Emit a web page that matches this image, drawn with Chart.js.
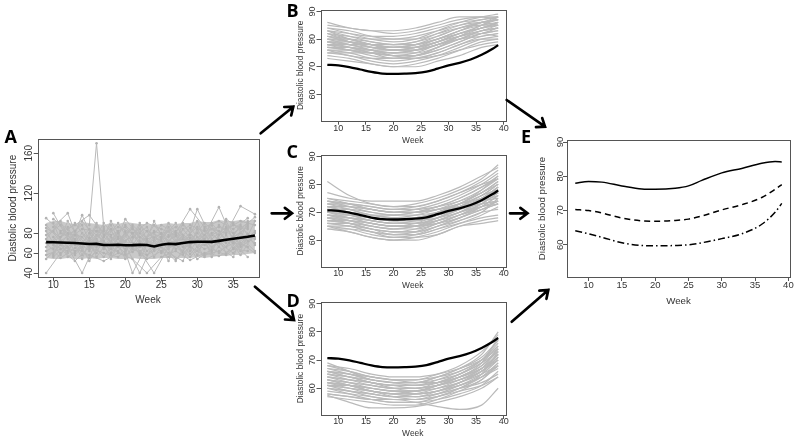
<!DOCTYPE html>
<html><head><meta charset="utf-8">
<script src="https://cdn.jsdelivr.net/npm/chart.js@4.4.1/dist/chart.umd.min.js"></script>
<style>
html,body{margin:0;padding:0;background:#fff;}
#wrap{position:relative;width:800px;height:443px;overflow:hidden;background:#fff;}
canvas{position:absolute;}
svg{position:absolute;left:0;top:0;}
</style></head><body>
<div id="wrap">
<canvas id="cA"></canvas>
<canvas id="cB"></canvas>
<canvas id="cC"></canvas>
<canvas id="cD"></canvas>
<canvas id="cE"></canvas>
<svg id="ov" width="800" height="443" xmlns="http://www.w3.org/2000/svg">
  <g font-family="Open Sans, Liberation Sans, sans-serif" font-weight="700" font-size="18" fill="#000">
    <text x="4.5" y="142.7">A</text>
    <text x="286.5" y="16.7">B</text>
    <text x="286.5" y="158">C</text>
    <text x="286.5" y="306.7">D</text>
    <text x="521" y="143.3">E</text>
  </g>
</svg>
</div>
<script>
// ---------- DATA ----------
const yTitle = "Diastolic blood pressure";
const xTitle = "Week";

// Panel A: observed trajectories
const weeksA = [9,10,11,12,13,14,15,16,17,18,19,20,21,22,23,24,25,26,27,28,29,30,31,32,33,34,35,36,37,38];
const meanA = [71,70.8,70.5,70.3,70,69.5,69,69.2,68,68,68.3,67.8,67.9,68.2,68,66.6,68.4,69.3,69,70,71,71.3,71.4,71.2,72.2,73.3,74.3,75.3,76.3,77.5];
const bandHighA = [90,92,92,90,89,91,90,89,88,90,89,91,90,89,89,88,89,90,89,90,90,92,91,91,93,92,92,93,92,94];
const bandLowA = [55,54,54,55,54,54,55,54,55,55,54,54,55,54,54,54,55,55,55,55,55,56,55,56,57,57,58,58,59,60];
const weeksOdd = [9,11,13,15,17,19,21,23,25,27,29,31,33,35,37];
const weeksEven = [10,12,14,16,18,20,22,24,26,28,30,32,34,36,38];
const trajOdd = [
  [62,70,58,75,66,80,61,72,68,77,59,74,82,65,79],
  [85,76,90,70,82,68,88,74,79,86,72,90,78,88,84],
  [40,60,72,55,70,62,80,58,66,52,75,64,70,60,78],
  [95,82,88,98,78,86,80,90,84,78,88,82,86,80,90],
  [70,55,65,58,52,60,54,40,56,62,53,60,57,64,62],
  [78,88,68,84,72,90,66,82,76,70,85,68,88,76,86],
  [58,64,52,66,60,56,70,54,62,68,56,72,60,74,66],
  [88,72,82,64,90,74,84,70,88,80,104,86,92,84,95],
  [66,80,74,62,84,70,76,86,60,82,68,78,106,72,88],
  [54,68,62,72,56,76,64,58,72,54,66,58,62,70,56],
  [74,92,60,80,64,82,40,68,80,64,78,56,74,90,72],
  [82,58,78,52,76,66,86,62,74,90,62,84,66,56,92]
];
const trajEven = [
  [100,74,84,82,78,86,70,82,76,88,72,84,80,107,99],
  [64,86,58,78,66,72,60,76,68,62,80,66,74,68,82],
  [76,60,98,66,88,62,84,64,90,70,62,78,70,86,74],
  [58,92,70,86,60,94,76,68,56,84,66,90,72,80,70],
  [82,66,40,72,64,58,66,88,70,74,86,70,84,92,88],
  [72,80,76,60,92,68,40,72,82,58,76,62,92,66,76],
  [90,56,66,82,54,82,58,92,64,78,58,88,60,76,62],
  [60,78,88,56,76,64,90,56,78,66,92,56,78,58,80],
  [86,100,62,90,70,88,72,80,52,90,70,80,66,88,68],
  [68,62,80,68,84,54,80,62,86,60,104,74,86,62,92],
  [56,70,92,74,58,80,62,40,66,76,54,64,58,70,60],
  [94,84,54,88,72,60,88,74,60,52,84,60,94,84,96]
];
const weeksSpike = [15,16,17];
const spikeVals = [88,170,86];

// Panels B/C/D: fitted trajectories
const curveWeeks = [8,12,16,20,24,28,32,36,39];
const meanWeeks = [8,10,12,14,16,18,20,22,24,26,28,30,32,34,36,38,39];
const meanCurve = [70.7,70.5,69.9,69,68.1,67.5,67.4,67.5,67.7,68.2,69.3,70.5,71.4,72.6,74.3,76.5,77.8];
const curvesB = [
  [86,84,83,82,83,85,87,88,88],[84,82,80,79,80,83,86,88,89],[83,81,79,78,79,82,85,87,88],
  [82,80,78,77,78,81,84,86,87],[81,79,77,76,77,80,83,85,86],[80,78,76,75,76,79,82,84,85],
  [79,77,75,74,75,78,81,83,84],[78,76,75,74,74,77,80,83,84],[77,76,74,73,74,76,79,82,83],
  [76,75,73,72,73,75,78,81,82],[75,74,72,71,72,74,77,80,81],[74,73,71,70,71,73,76,79,80],
  [73,72,71,70,70,72,74,77,78],[80,80,79,78,78,80,83,86,87],[78,78,78,77,77,79,82,84,85],
  [82,81,80,80,81,83,85,86,85],[79,79,78,78,79,81,84,86,87],[77,77,76,75,75,77,80,83,85],
  [84,83,81,80,80,82,84,85,85],[85,84,83,83,84,86,88,88,87],[76,76,76,76,77,79,82,85,88],
  [81,80,78,76,76,78,81,83,84],[79,78,76,74,73,74,76,78,79],[78,77,75,73,73,75,78,80,80],
  [83,82,81,81,82,84,86,87,88],[80,79,77,76,77,79,81,82,81],[77,76,75,75,76,78,80,81,82],
  [75,75,75,74,74,76,79,82,84],[82,79,77,76,76,78,80,82,83],[79,78,77,77,78,80,82,84,86],
  [76,74,73,73,74,77,81,85,87],[81,79,78,77,78,80,83,86,88],[78,77,76,75,76,78,81,84,86],
  [83,80,78,77,77,79,82,84,86]
];
const curvesC = [
  [81,76,73,72,72,74,77,80,82],[77,75,74,74,74,76,79,83,86],[75,74,73,72,73,75,78,82,87],
  [74,73,72,71,72,74,77,81,85],[73,72,71,70,71,73,76,80,84],[72,71,69,69,70,72,75,79,83],
  [71,70,68,68,69,71,74,78,82],[70,69,67,66,67,70,73,77,81],[69,68,66,65,66,69,72,76,80],
  [68,67,65,64,65,68,71,75,79],[67,66,64,63,64,67,70,74,78],[66,65,63,62,63,66,69,73,77],
  [65,64,62,61,62,65,68,71,74],[64,63,61,60,61,63,66,69,72],[65,63,61,60,60,62,65,67,68],
  [70,68,66,65,65,67,70,72,73],[72,70,68,67,67,69,71,74,75],[74,72,70,69,69,70,72,74,76],
  [68,68,67,66,66,67,69,72,76],[73,71,69,68,68,69,71,73,74],[66,66,65,64,65,67,70,74,79],
  [69,69,68,67,68,70,73,78,83],[71,71,70,69,70,72,75,79,82],[67,66,64,62,62,64,66,68,69],
  [64,64,63,62,62,64,67,70,75],[75,73,71,70,70,71,73,75,77],[70,70,69,68,67,68,70,73,77],
  [72,72,71,70,70,71,73,76,80],[68,66,64,63,63,65,67,70,71],[66,65,63,61,61,62,65,66,67],
  [73,73,72,71,71,72,74,77,81],[69,67,65,64,64,66,69,72,74],[71,69,67,66,66,68,72,76,78],
  [65,65,64,63,63,65,68,72,76],[70,69,68,67,67,69,72,75,78],[67,67,66,65,65,66,68,71,73],
  [72,70,68,67,68,70,73,77,80],[68,67,66,65,65,66,69,71,73],[74,73,71,70,70,71,72,73,74],
  [69,68,67,66,66,68,71,75,79]
];
const curvesD = [
  [69,66,63,62,62,64,67,72,80],[68,66,64,63,63,65,68,73,79],[67,65,63,62,62,64,67,71,77],
  [66,64,62,61,61,63,66,70,76],[65,63,61,60,60,62,65,69,75],[64,62,60,59,59,61,64,68,74],
  [63,61,59,58,59,61,64,68,73],[62,60,58,57,58,60,63,67,72],[61,59,58,57,57,59,62,66,71],
  [60,59,57,56,56,58,61,65,70],[58,57,56,55,55,57,60,64,69],[57,56,55,54,54,56,59,63,68],
  [57.5,55,53,53,53.5,55,57,60,64],[60,58,56,55,55,56,58,61,66],[62,61,60,59,59,60,62,65,68],
  [64,63,62,61,61,62,64,67,70],[66,65,63,62,62,63,65,69,73],[63,62,61,60,60,61,63,66,70],
  [61,60,59,58,58,59,61,64,67],[59,58,57,56,56,57,59,61,64],[65,64,63,62,61,62,64,67,72],
  [67,66,64,63,63,64,66,70,75],[62,61,59,58,57,58,60,63,69],[64,63,62,61,61,62,65,70,77],
  [60,59,58,57,57,58,60,62,65],[63,61,59,57,56,57,60,65,73],[58,57,56,56,55,53.5,52.5,54,60],
  [66,64,62,60,59,60,62,66,71],[61,61,60,59,59,61,64,69,78],[68,67,65,64,64,65,67,70,74],
  [63,62,61,60,60,61,63,66,72],[65,64,62,61,60,61,63,67,74],[61,60,59,58,58,59,61,64,68],
  [62,61,60,59,58,59,62,66,71],[66,65,64,63,62,62,64,67,72]
];

// Panel E: group mean curves
const eWeeks = [8,10,12,15,18,20,23,25,27,30,33,36,38,39];
const eHigh = [78,78.5,78.3,77.2,76.3,76.2,76.5,77.2,78.8,81,82.3,83.8,84.3,84.2];
const eMid = [70.3,70,69.3,67.8,67,66.9,67.1,67.5,68.4,70.2,71.7,73.8,76.2,77.6];
const eLow = [64.1,63.2,62.2,60.6,59.8,59.7,59.8,60,60.6,61.8,63.2,66,69.5,72.1];

// tick labels
const xTicksA = [10,15,20,25,30,35];
const yTicksA = [40,60,80,120,160];
const xTicksF = [10,15,20,25,30,35,40];
const yTicksF = [60,70,80,90];

// ---------- DRAWING ----------
Chart.defaults.font.family = '"Liberation Sans", Arial, sans-serif';
Chart.defaults.color = '#333';
const GREY = '#bababa';
const FONT = '"Liberation Sans", Arial, sans-serif';

const rBox = {
  id: 'rbox',
  afterDraw(chart, args, o) {
    const {ctx, chartArea: a} = chart;
    const ys = chart.scales.y;
    ctx.save();
    ctx.strokeStyle = '#555';
    ctx.lineWidth = 1;
    ctx.strokeRect(Math.round(a.left) + 0.5, Math.round(a.top) + 0.5,
                   Math.round(a.right - a.left), Math.round(a.bottom - a.top));
    ctx.fillStyle = '#333';
    ctx.font = o.size + 'px ' + FONT;
    ctx.textAlign = 'center';
    ctx.textBaseline = 'middle';
    o.ticks.forEach(v => {
      const y = ys.getPixelForValue(v);
      ctx.save();
      ctx.translate(a.left - o.offset, y);
      ctx.rotate(-Math.PI / 2);
      ctx.fillText(String(v), 0, 0);
      ctx.restore();
    });
    ctx.restore();
  }
};

function pts(xs, ys) { return xs.map((x, i) => ({x: x, y: ys[i]})); }

function makeChart(id, g, c) {
  const cv = document.getElementById(id);
  const lhT = c.titleSize * 1.2;
  const lhK = c.tickSize * 1.2;
  const tl = 4;
  const cLeft = Math.round(g.yTitleX - lhT / 2) - 1;
  const cBottom = Math.round(g.xTitleY + lhT / 2) + 1;
  const cTop = Math.round(g.T) - 6;
  const cRight = Math.round(g.R) + 14;
  cv.width = cRight - cLeft;
  cv.height = cBottom - cTop;
  cv.style.left = cLeft + 'px';
  cv.style.top = cTop + 'px';
  const yW = g.L - cLeft;
  const xH = cBottom - g.B;
  new Chart(cv, {
    type: 'line',
    data: {datasets: c.datasets},
    plugins: [rBox],
    options: {
      responsive: false,
      animation: false,
      devicePixelRatio: 1,
      events: [],
      layout: {padding: {left: 0, top: g.T - cTop, right: cRight - g.R, bottom: 0}},
      plugins: {
        legend: {display: false},
        tooltip: {enabled: false},
        rbox: {ticks: c.yTicks, offset: g.L - g.yLabX, size: c.tickSize}
      },
      scales: {
        x: {
          type: 'linear', position: 'bottom', min: c.xMin, max: c.xMax,
          afterBuildTicks: s => { s.ticks = c.xTicks.map(v => ({value: v})); },
          afterFit: s => { s.height = xH; },
          grid: {drawOnChartArea: false, drawTicks: true, tickLength: tl, color: '#555'},
          border: {display: false},
          ticks: {autoSkip: false, maxRotation: 0, minRotation: 0, color: '#333',
                  font: {size: c.tickSize}, padding: g.xLabY - g.B - tl - lhK / 2},
          title: {display: true, text: xTitle, color: '#333', font: {size: c.titleSize},
                  padding: {top: 0, bottom: cBottom - g.xTitleY - lhT / 2}}
        },
        y: {
          type: 'linear', position: 'left', min: c.yMin, max: c.yMax,
          afterBuildTicks: s => { s.ticks = c.yTicks.map(v => ({value: v})); },
          afterFit: s => { s.width = yW; },
          grid: {drawOnChartArea: false, drawTicks: true, tickLength: tl, color: '#555'},
          border: {display: false},
          ticks: {display: false},
          title: {display: true, text: yTitle, color: '#333', font: {size: c.titleSize},
                  padding: {top: g.yTitleX - cLeft - lhT / 2, bottom: 0}}
        }
      }
    }
  });
}

function curveSet(xs, ys, color, width, extra) {
  return Object.assign({
    data: pts(xs, ys), borderColor: color, borderWidth: width, pointRadius: 0,
    fill: false, tension: 0.4, cubicInterpolationMode: 'monotone'
  }, extra || {});
}

// Panel A datasets
const dsA = [];
dsA.push({data: pts(weeksA, meanA), borderColor: '#000', borderWidth: 2.6,
          pointRadius: 0, tension: 0, fill: false, order: 0});
dsA.push({data: pts(weeksA, bandHighA), borderColor: 'rgba(0,0,0,0)', borderWidth: 0, pointRadius: 0,
          backgroundColor: '#c9c9c9', fill: 2, tension: 0, order: 20});
dsA.push({data: pts(weeksA, bandLowA), borderColor: 'rgba(0,0,0,0)', borderWidth: 0, pointRadius: 0,
          fill: false, tension: 0, order: 21});
trajOdd.forEach(v => dsA.push({data: pts(weeksOdd, v), borderColor: '#b9b9b9', borderWidth: 1,
  pointRadius: 1.3, pointBorderWidth: 0, pointBackgroundColor: '#b3b3b3', tension: 0, fill: false, order: 5}));
trajEven.forEach(v => dsA.push({data: pts(weeksEven, v), borderColor: '#b9b9b9', borderWidth: 1,
  pointRadius: 1.3, pointBorderWidth: 0, pointBackgroundColor: '#b3b3b3', tension: 0, fill: false, order: 5}));
dsA.push({data: pts(weeksSpike, spikeVals), borderColor: '#b9b9b9', borderWidth: 1,
  pointRadius: 1.3, pointBorderWidth: 0, pointBackgroundColor: '#b3b3b3', tension: 0, fill: false, order: 5});

makeChart('cA', {L: 37.7, T: 139, R: 258.3, B: 277.3, yLabX: 29.3, yTitleX: 13.3, xLabY: 285.7, xTitleY: 300.7},
  {datasets: dsA, xTicks: xTicksA, yTicks: yTicksA, xMin: 7.83, xMax: 38.47, yMin: 35.7, yMax: 174.3,
   titleSize: 10, tickSize: 10});

function groupSets(curves) {
  const ds = [curveSet(meanWeeks, meanCurve, '#000', 2.3, {order: 0})];
  curves.forEach(v => ds.push(curveSet(curveWeeks, v, GREY, 1.2, {order: 5})));
  return ds;
}
const small = {xTicks: xTicksF, yTicks: yTicksF, xMin: 6.76, xMax: 40.24, yMin: 50.5, yMax: 90.5,
               titleSize: 8.4, tickSize: 9};
makeChart('cB', {L: 320.5, T: 10, R: 505, B: 120.7, yLabX: 312.7, yTitleX: 300.7, xLabY: 128.3, xTitleY: 140.7},
  Object.assign({datasets: groupSets(curvesB)}, small));
makeChart('cC', {L: 320.5, T: 155, R: 505, B: 266.7, yLabX: 312.7, yTitleX: 300.7, xLabY: 273.5, xTitleY: 285.7},
  Object.assign({datasets: groupSets(curvesC)}, small));
makeChart('cD', {L: 320.5, T: 302.3, R: 505, B: 415, yLabX: 312.7, yTitleX: 300.7, xLabY: 421.5, xTitleY: 434},
  Object.assign({datasets: groupSets(curvesD)}, small));

makeChart('cE', {L: 567, T: 140, R: 790, B: 277, yLabX: 560, yTitleX: 542.7, xLabY: 285.7, xTitleY: 301},
  {datasets: [
     curveSet(eWeeks, eHigh, '#000', 1.5),
     curveSet(eWeeks, eMid, '#000', 1.5, {borderDash: [6, 4]}),
     curveSet(eWeeks, eLow, '#000', 1.5, {borderDash: [7, 3, 1.5, 3]})
   ], xTicks: xTicksF, yTicks: yTicksF, xMin: 6.76, xMax: 40.24, yMin: 50.6, yMax: 90.6,
   titleSize: 9.7, tickSize: 9.5});

// arrows (figure annotations)
const arrows = [
  [260.7,133.3,293.3,106.7],[271.7,213.3,292,213.3],[255,286.7,294,320],
  [506.7,100,545,126.7],[510,213.3,527.5,213.3],[511.7,321.7,548.3,290]
];
const svg = document.getElementById('ov');
const NS = 'http://www.w3.org/2000/svg';
arrows.forEach(([x1,y1,x2,y2]) => {
  const ang = Math.atan2(y2 - y1, x2 - x1);
  const hl = 9, ha = 0.65;
  const p = document.createElementNS(NS, 'path');
  const ax = x2 - hl * Math.cos(ang - ha), ay = y2 - hl * Math.sin(ang - ha);
  const bx = x2 - hl * Math.cos(ang + ha), by = y2 - hl * Math.sin(ang + ha);
  p.setAttribute('d', `M${x1},${y1} L${x2},${y2} M${ax},${ay} L${x2},${y2} L${bx},${by}`);
  p.setAttribute('stroke', '#000'); p.setAttribute('stroke-width', '2.7');
  p.setAttribute('fill', 'none'); p.setAttribute('stroke-linecap', 'round'); p.setAttribute('stroke-linejoin', 'miter');
  svg.appendChild(p);
});
</script>
</body></html>
